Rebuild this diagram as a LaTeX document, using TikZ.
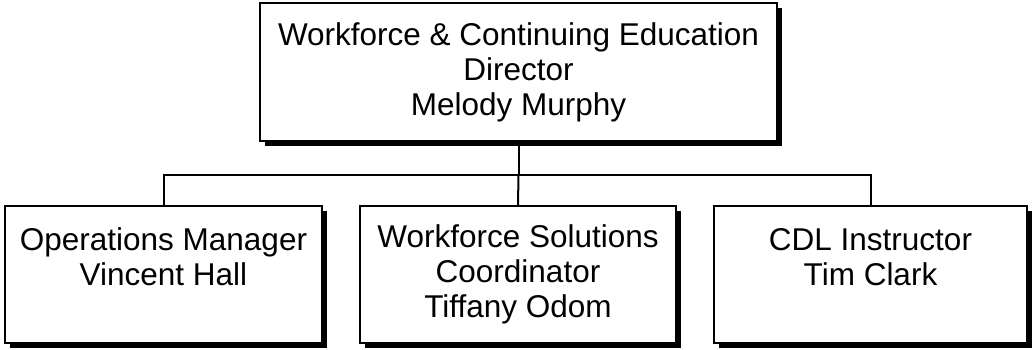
\documentclass[tikz,border=0pt]{standalone}
\usepackage{fontspec}
\setmainfont{Liberation Sans}
\usetikzlibrary{shadows}
\begin{document}
\begin{tikzpicture}[x=1pt,y=1pt,
  orgbox/.style={draw=black, line width=1.5pt, fill=white, align=center,
    inner sep=0pt, font=\fontsize{31.5}{35}\selectfont,
    drop shadow={shadow xshift=5pt, shadow yshift=-5pt, fill=black, opacity=1}},
  conn/.style={draw=black, line width=2pt}]
\useasboundingbox (0,0) rectangle (1034,349);
\node[orgbox, minimum width=517pt, minimum height=138pt] (top) at (518.5,277)
  {Workforce \& Continuing Education\\Director\\Melody Murphy};
\node[orgbox, minimum width=317pt, minimum height=137pt] (left) at (163.5,74.5)
  {Operations Manager\\Vincent Hall\\\mbox{}};
\node[orgbox, minimum width=316pt, minimum height=137pt] (mid) at (518,74.5)
  {Workforce Solutions\\Coordinator\\Tiffany Odom};
\node[orgbox, minimum width=313pt, minimum height=137pt] (right) at (870.5,74.5)
  {CDL Instructor\\Tim Clark\\\mbox{}};
\coordinate (bus) at (518.5,174);
\draw[conn] (top.south) -- (bus);
\draw[conn] (left.north) |- (bus) -| (right.north);
\draw[conn] (bus) -- (mid.north);
\end{tikzpicture}
\end{document}
